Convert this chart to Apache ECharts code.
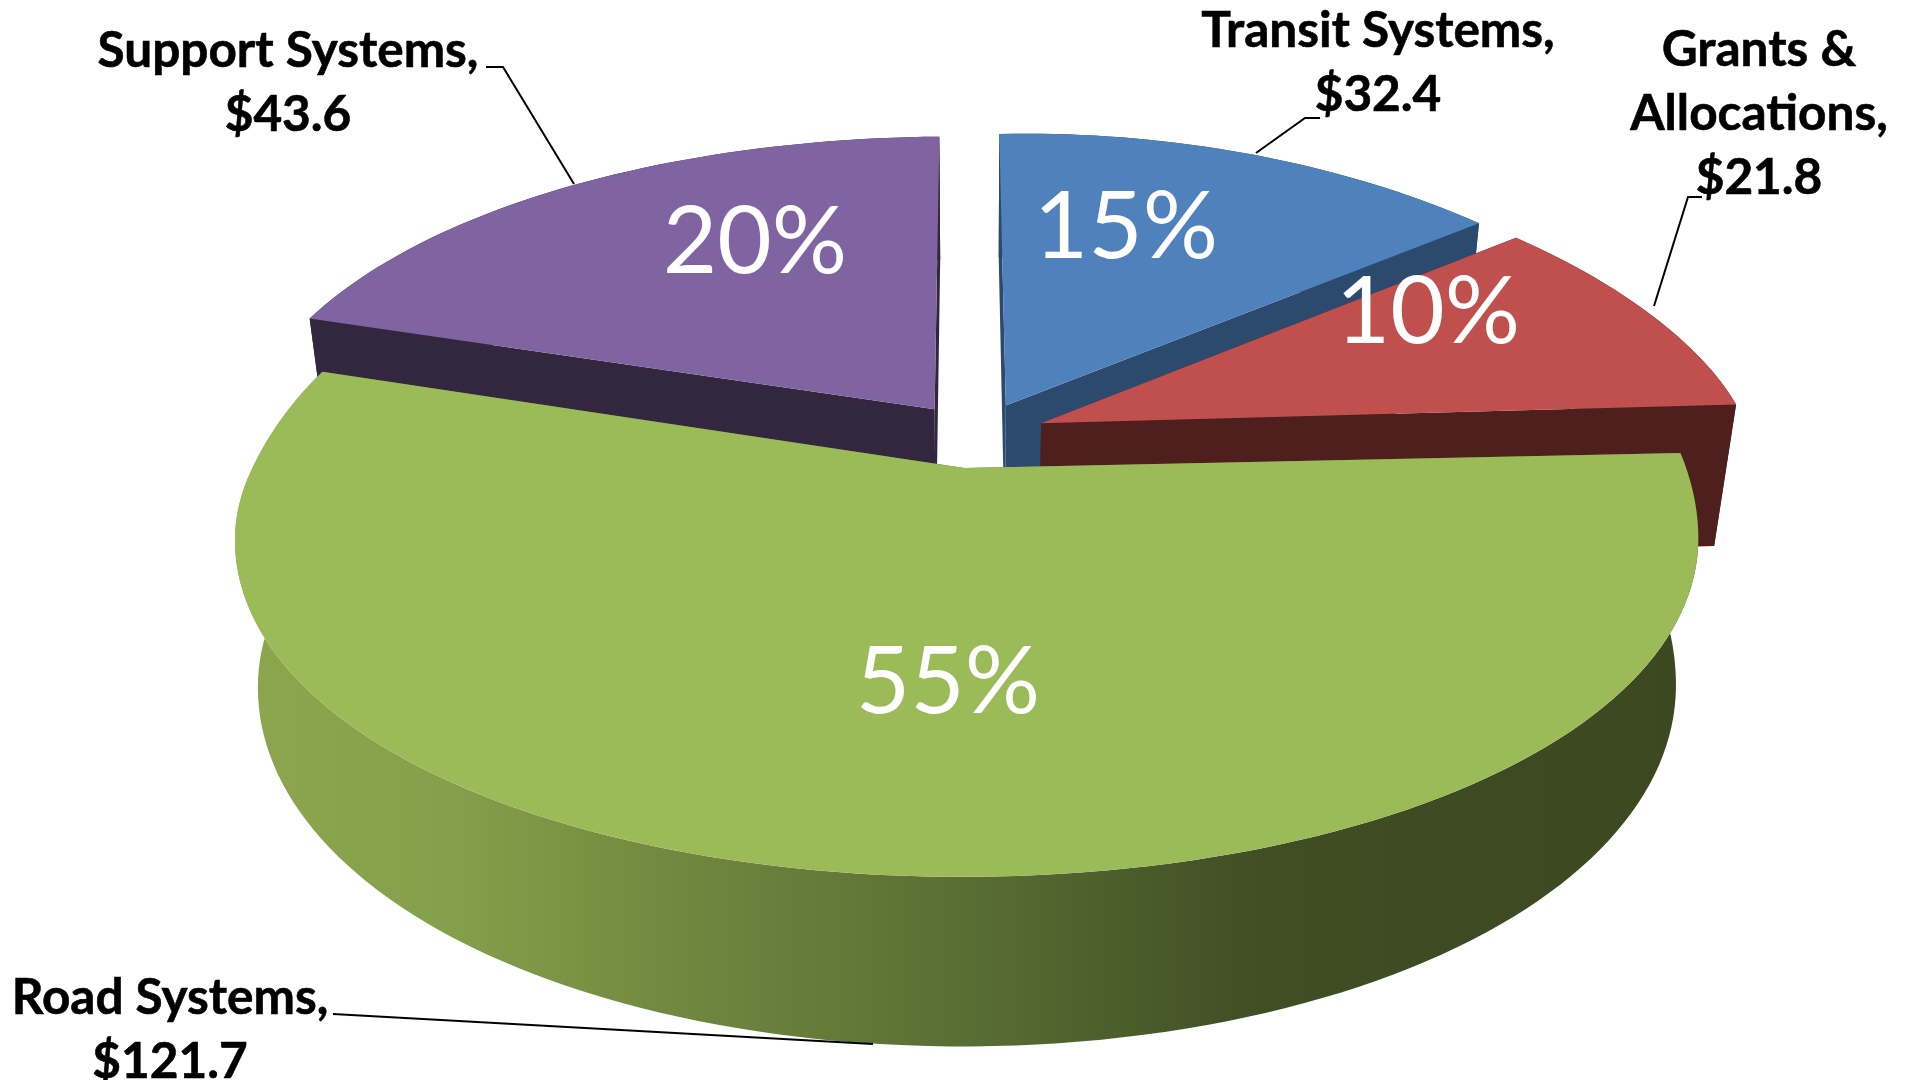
<!DOCTYPE html>
<html><head><meta charset="utf-8"><style>html,body{margin:0;padding:0;background:#fff;overflow:hidden}#c{width:1911px;height:1080px}</style>
<script src="https://cdn.jsdelivr.net/npm/echarts@6/dist/echarts.min.js"></script></head><body><div id="c"></div>
<script>
const categories = ['Transit Systems', 'Grants &\nAllocations', 'Road Systems', 'Support Systems'];
const amounts = [32.4, 21.8, 121.7, 43.6];
const paintOrder = [0, 3, 1, 2];
const topColors = ['#4F81BD', '#C0504D', '#9BBB59', '#8064A2'];
const wallColors = ['#2C4A6E', '#4F1F1E', null, '#33273F'];

// camera model of the tilted disc
const cam = {cx: 975, cy: 435, a: 705, b: 327, kx: 0.2, ky: 0.17, shearR: 0.04, shearL: 0.018, skewX: 0.065, leftScale: 0.992, mx: 0.03, my: 0.01, depth: 144, explode: 0.1};
function project(u, v, h) {
  const s = Math.min(1, Math.max(0, (v + 0.35) / 0.45));
  const f = s * s * (3 - 2 * s);
  const vv = v + (u > 0 ? cam.shearR : cam.shearL) * u * f;
  const t = Math.max(0, v + 0.1);
  const uu = (u - cam.skewX * Math.abs(u) * t * t / (t + 0.3)) * (u < 0 ? cam.leftScale : 1);
  return [cam.cx + cam.a * uu / (1 + cam.kx * v + cam.mx * h),
          cam.cy + (-cam.b * vv + cam.depth * h) / (1 + cam.ky * v + cam.my * h)];
}
const total = amounts.reduce((s, x) => s + x, 0);
const starts = []; amounts.reduce((s, x, i) => (starts[i] = s, s + x), 0);

function roadWall() {
  return new echarts.graphic.LinearGradient(245, 0, 1700, 0, [
    {offset: 0, color: '#8BA64E'},
    {offset: 0.14, color: '#84A04A'},
    {offset: 0.3, color: '#6F883F'},
    {offset: 0.5, color: '#586D33'},
    {offset: 0.7, color: '#404E24'},
    {offset: 1, color: '#3C4820'}
  ], true);
}
function renderSlice(params, api) {
  const idx = api.value(2);
  const t0 = api.value(1) / total * Math.PI * 2;
  const t1 = (api.value(1) + api.value(0)) / total * Math.PI * 2;
  const mid = (t0 + t1) / 2;
  const ou = cam.explode * Math.sin(mid), ov = cam.explode * Math.cos(mid);
  const n = Math.max(8, Math.round((t1 - t0) * 40));
  const arc = h => { const p = []; for (let i = 0; i <= n; i++) { const t = t0 + (t1 - t0) * i / n; p.push(project(ou + Math.sin(t), ov + Math.cos(t), h)); } return p; };
  const top = arc(0), bot = arc(1);
  const a0 = project(ou, ov, 0), a1 = project(ou, ov, 1);
  const fillWall = wallColors[idx] || roadWall();
  const flat = wallColors[idx] || '#586D33';
  const poly = (points, fill) => ({type: 'polygon', shape: {points}, style: {fill, stroke: null}});
  return {type: 'group', children: [
    poly([a0, top[0], bot[0], a1], flat),
    poly([a0, top[n], bot[n], a1], flat),
    poly(top.concat(bot.slice().reverse()), fillWall),
    poly([a0].concat(top), topColors[idx])
  ]};
}

const labelLayout = [
  {x: 1378, y: 63},
  {x: 1759, y: 114},
  {x: 170, y: 1030},
  {x: 288, y: 83}
];
const pctLayout = [[1126, 228], [1428, 313], [948, 683], [755, 243]];
const leaders = [
  [[1256, 153], [1305, 118], [1320, 118]],
  [[1654, 306], [1688, 197], [1702, 197]],
  [[333, 1014], [873, 1044]],
  [[486, 67], [503, 67], [574, 184]]
];
const graphics = [];
categories.forEach((name, i) => {
  graphics.push({type: 'polyline', z: 10, shape: {points: leaders[i]}, style: {stroke: '#000', lineWidth: 2, fill: null}});
  const L = labelLayout[i];
  graphics.push({type: 'text', z: 11, x: L.x, y: L.y, style: {text: name + ',\n$' + amounts[i].toFixed(1), fill: '#000', stroke: '#000', lineWidth: 0.6, font: 'bold 49.5px Lato', lineHeight: 64, align: 'center', verticalAlign: 'middle'}});
  graphics.push({type: 'text', z: 11, x: pctLayout[i][0], y: pctLayout[i][1], style: {text: Math.round(amounts[i] / total * 100) + '%', fill: '#fff', font: '94px Lato', align: 'center', verticalAlign: 'middle'}});
});

const chart = echarts.init(document.getElementById('c'));
chart.setOption({
  backgroundColor: '#fff',
  animation: false,
  series: [{
    type: 'custom', coordinateSystem: 'none', renderItem: renderSlice, silent: true,
    data: paintOrder.map(i => ({name: categories[i], value: [amounts[i], starts[i], i]}))
  }],
  graphic: graphics
});
</script></body></html>
